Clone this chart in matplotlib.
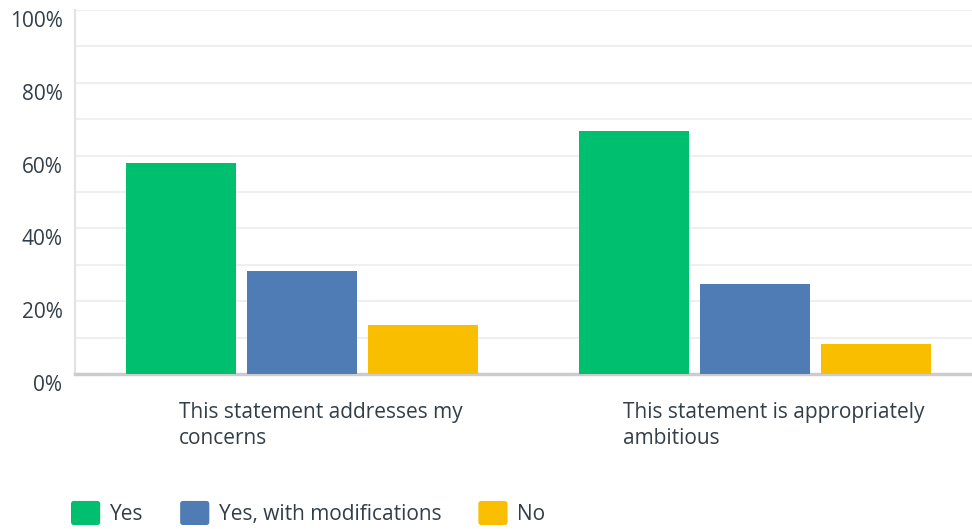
import numpy as np
import matplotlib
matplotlib.use("Agg")
import matplotlib.pyplot as plt
import matplotlib.transforms as mtransforms
from matplotlib.patches import Patch, FancyBboxPatch
from matplotlib.legend_handler import HandlerPatch

plt.rcParams['font.family'] = ['Open Sans', 'DejaVu Sans']

categories = ["This statement addresses my\nconcerns",
              "This statement is appropriately\nambitious"]
series = ["Yes", "Yes, with modifications", "No"]
yes = [58.0, 66.8]
yes_mod = [28.3, 24.7]
no = [13.5, 8.2]
colors = ["#00bf6f", "#507cb6", "#f9be00"]
text_col = "#333e48"


class HandlerRound(HandlerPatch):
    def create_artists(self, legend, orig_handle, xdescent, ydescent,
                       width, height, fontsize, trans):
        p = FancyBboxPatch((-xdescent + 2, -ydescent + 2), width - 4, height - 4,
                           boxstyle="round,pad=2", facecolor=orig_handle.get_facecolor(),
                           edgecolor="none", transform=trans)
        return [p]


fig = plt.figure(figsize=(9.72, 5.29), dpi=100)
ax = fig.add_axes([75 / 972, (529 - 374) / 529, 1 - 75 / 972, 364 / 529])

x = np.arange(len(categories))
w = 0.243
off = 0.267
for i, (vals, c) in enumerate(zip([yes, yes_mod, no], colors)):
    ax.bar(x + (i - 1) * off, vals, w, color=c, zorder=3, label=series[i])

ax.set_xlim(-0.5, 1.479)
ax.set_ylim(0, 100)
ax.set_yticks(np.arange(0, 101, 10), minor=False)
ax.set_yticklabels([f"{v}%" if v % 20 == 0 else "" for v in range(0, 101, 10)])
ax.grid(axis='y', color="#efefef", linewidth=1.5, zorder=0)
ax.tick_params(axis='y', length=0, pad=9, labelsize=15, labelcolor=text_col)
shift = mtransforms.ScaledTranslation(0, -9 / 100, fig.dpi_scale_trans)
for lbl in ax.get_yticklabels():
    lbl.set_transform(lbl.get_transform() + shift)

ax.set_xticks(x)
ax.set_xticklabels(categories, multialignment='left', linespacing=1.35)
ax.tick_params(axis='x', length=0, pad=20, labelsize=15, labelcolor=text_col)
xshift = mtransforms.ScaledTranslation(19 / 100, 0, fig.dpi_scale_trans)
for lbl in ax.get_xticklabels():
    lbl.set_transform(lbl.get_transform() + xshift)

for s in ['top', 'right']:
    ax.spines[s].set_visible(False)
ax.spines['left'].set_color("#e2e2e2")
ax.spines['left'].set_linewidth(1.5)
ax.spines['bottom'].set_color("#cccccc")
ax.spines['bottom'].set_linewidth(2.5)
ax.axhline(100, color="#f6f6f6", linewidth=1.5, zorder=0)

handles = [Patch(facecolor=c) for c in colors]
fig.legend(handles, series, loc='lower left', bbox_to_anchor=(71 / 972, 4 / 529),
           ncol=3, frameon=False, fontsize=15, labelcolor=text_col,
           handlelength=1.4, handleheight=1.4, handletextpad=0.45,
           columnspacing=1.78, borderpad=0, borderaxespad=0,
           handler_map={Patch: HandlerRound()})

fig.savefig("out.png", dpi=100)
